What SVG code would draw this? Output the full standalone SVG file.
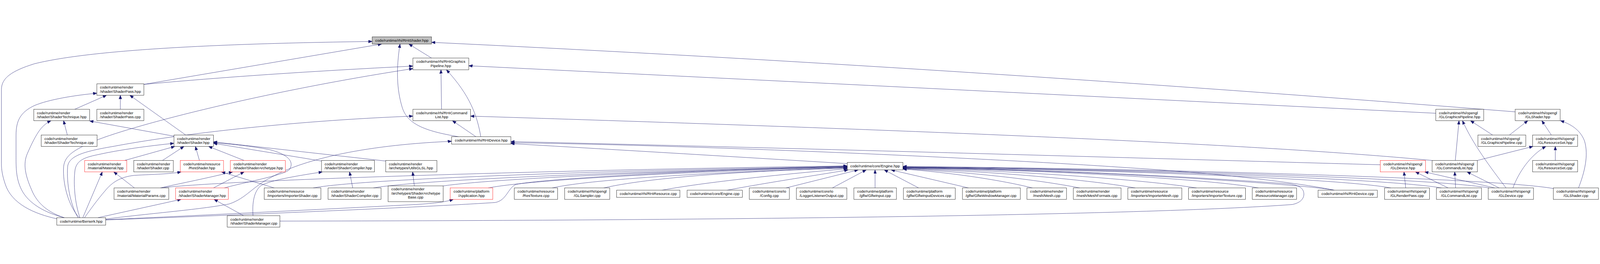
<svg xmlns="http://www.w3.org/2000/svg" width="5584" height="677" viewBox="0 0 5584 677" preserveAspectRatio="xMidYMid meet">
<style>
svg{width:100vw;height:100vh;display:block}
.n rect{fill:#ffffff;stroke:#000000;stroke-width:1}
.n.r rect{stroke:#ff0000}
.n.g rect{fill:#bfbfbf}
text{font-family:"Liberation Sans",Arial,Helvetica,sans-serif;font-size:13px;fill:#000000}
.c text{text-anchor:middle}
#edges path{fill:none;stroke:#191970;stroke-width:1;marker-end:url(#a)}
</style>
<defs>
<marker id="a" markerUnits="userSpaceOnUse" markerWidth="14" markerHeight="11" refX="13" refY="5" orient="auto">
<path d="M0,0 L13,5 L0,10 z" fill="#191970" stroke="#191970" stroke-width="1"/>
</marker>
</defs>
<rect width="5584" height="677" fill="#ffffff"/>
<g id="edges">
<path d="M199,642 C120,625 40,590 18,520 C8,490 5,470 5,450 L5,190 C5,150 40,125 120,100 C300,55 700,30 1299,22"/>
<path d="M502,172 L1332,31"/>
<path d="M1506,80 L1427,31"/>
<path d="M5288,268 Q3300,110 1506,25"/>
<path d="M1601,355 C1480,335 1420,310 1403,250 C1385,190 1382,120 1396,31"/>
<path d="M502,172 Q900,135 1441,108"/>
<path d="M277,638 C240,600 218,520 222,460 C226,420 260,400 330,370 C450,320 900,200 1441,117"/>
<path d="M1541,259 L1539,121"/>
<path d="M1678,355 C1665,280 1640,210 1558,121"/>
<path d="M5011,273 L1636,107"/>
<path d="M225,638 C160,622 100,590 75,540 C55,500 56,460 56,420 L56,350 C56,300 70,270 120,246 C170,225 260,210 338,203"/>
<path d="M261,259 L372,210"/>
<path d="M420,259 L420,210"/>
<path d="M648,349 L453,210"/>
<path d="M223,638 C170,620 130,590 110,540 C88,490 80,450 95,415 C110,380 125,350 140,330 C152,315 165,305 178,299"/>
<path d="M235,349 L222,299"/>
<path d="M607,353 L313,300"/>
<path d="M272,638 C245,590 232,520 236,460 C240,420 300,405 400,388 C600,350 1000,300 1441,283"/>
<path d="M1661,355 L1579,299"/>
<path d="M4998,438 C4600,400 3800,350 1642,283"/>
<path d="M279,638 C262,590 255,520 262,470 C268,440 290,428 340,418 C420,400 520,387 607,378"/>
<path d="M435,438 L610,389"/>
<path d="M567,438 L642,389"/>
<path d="M696,438 L682,389"/>
<path d="M852,438 L728,389"/>
<path d="M1122,440 L745,378"/>
<path d="M1346,440 L745,373"/>
<path d="M783,534 C850,515 990,490 1010,470 C1030,440 1000,415 940,400 C880,388 800,380 745,376"/>
<path d="M369,643 C500,625 700,610 800,590 C860,570 880,530 950,495 C1050,440 1250,385 1576,371"/>
<path d="M4817,453 C4500,445 3000,400 1783,372"/>
<path d="M4657,542 C4550,520 4300,486 3946,464 C3500,433 2500,386 1783,376"/>
<path d="M2957,449 Q2400,415 1783,379"/>
<path d="M289,638 L357,478"/>
<path d="M469,534 L397,478"/>
<path d="M295,638 C315,610 340,575 366,545 C390,515 420,495 470,490 C540,486 590,486 632,478"/>
<path d="M957,534 L773,478"/>
<path d="M560,534 C620,520 700,505 812,478"/>
<path d="M745,534 L852,478"/>
<path d="M342,638 L632,574"/>
<path d="M850,631 L747,574"/>
<path d="M883,631 C880,590 885,545 912,525 C950,505 1050,490 1125,478"/>
<path d="M1231,534 L1220,478"/>
<path d="M1446,527 L1440,478"/>
<path d="M369,645 C700,630 1200,605 1450,592 C1520,588 1560,582 1582,574"/>
<path d="M369,646 C900,626 1500,600 1728,585 C1768,578 1772,535 1800,522 C1900,500 2500,470 2957,458"/>
<path d="M560,534 C800,505 2000,470 2957,457"/>
<path d="M1093,534 C1250,505 2000,475 2957,459"/>
<path d="M1303,534 C1450,508 2100,478 2957,460"/>
<path d="M1546,527 C1700,505 2200,478 2957,461"/>
<path d="M1704,534 C1840,508 2300,480 2957,462"/>
<path d="M1927,534 C2080,500 2550,478 2957,463"/>
<path d="M2107,534 C2300,490 2700,472 2957,465"/>
<path d="M2310,542 C2480,510 2800,480 2957,467"/>
<path d="M2537,542 C2680,515 2880,485 2960,471"/>
<path d="M2743,534 L2995,471"/>
<path d="M2905,534 L3023,471"/>
<path d="M3054,534 L3054,471"/>
<path d="M3206,534 L3086,471"/>
<path d="M3380,534 L3110,471"/>
<path d="M3603,534 C3500,508 3320,480 3151,468"/>
<path d="M3768,534 C3620,505 3380,478 3151,467"/>
<path d="M3962,534 C3780,502 3420,474 3151,466"/>
<path d="M4176,534 C3950,500 3500,472 3151,465"/>
<path d="M4392,534 C4200,500 3600,470 3151,464"/>
<path d="M4657,542 C4560,522 3800,470 3151,463"/>
<path d="M977,650 C2500,648 4000,630 4510,592 C4545,585 4553,565 4550,550 C4547,535 4535,525 4500,520 C4100,490 3600,468 3151,463"/>
<path d="M4854,534 C4700,505 4000,472 3151,462"/>
<path d="M5031,534 C4850,503 4000,470 3151,461"/>
<path d="M5197,534 C5000,500 4000,468 3151,460"/>
<path d="M5421,536 C5200,498 4000,466 3151,459"/>
<path d="M5079,438 L5092,299"/>
<path d="M5209,349 L5132,299"/>
<path d="M5256,534 C5200,460 5140,380 5104,299"/>
<path d="M5268,349 L5332,299"/>
<path d="M5414,349 L5381,299"/>
<path d="M5509,534 C5530,480 5545,420 5530,370 C5515,330 5480,310 5446,299"/>
<path d="M5156,438 L5350,389"/>
<path d="M5280,534 C5300,480 5340,420 5395,389"/>
<path d="M5428,438 L5428,389"/>
<path d="M4906,534 L4900,478"/>
<path d="M5054,534 L4940,478"/>
<path d="M5217,534 L4972,478"/>
<path d="M5080,534 L5077,478"/>
<path d="M5232,534 L5120,478"/>
</g>

<g id="n1" class="n g c"><rect x="1299" y="6" width="207" height="25"/><text x="1402.5" y="23">code/runtime/rhi/RHIShader.hpp</text></g>
<g id="n2" class="n c"><rect x="1441" y="80" width="195" height="41"/><text x="1538.5" y="97">code/runtime/rhi/RHIGraphics</text><text x="1538.5" y="111">Pipeline.hpp</text></g>
<g id="n3" class="n"><rect x="338" y="170" width="164" height="40"/><text x="349" y="187">code/runtime/render</text><text x="349" y="201">/shader/ShaderPass.hpp</text></g>
<g id="n4" class="n"><rect x="118" y="259" width="195" height="40"/><text x="129" y="276">code/runtime/render</text><text x="129" y="290">/shader/ShaderTechnique.hpp</text></g>
<g id="n5" class="n"><rect x="338" y="259" width="164" height="40"/><text x="349" y="276">code/runtime/render</text><text x="349" y="290">/shader/ShaderPass.cpp</text></g>
<g id="n6" class="n c"><rect x="1441" y="259" width="201" height="40"/><text x="1541.5" y="276">code/runtime/rhi/RHICommand</text><text x="1541.5" y="290">List.hpp</text></g>
<g id="n7" class="n"><rect x="5011" y="259" width="167" height="40"/><text x="5022" y="276">code/runtime/rhi/opengl</text><text x="5022" y="290">/GLGraphicsPipeline.hpp</text></g>
<g id="n8" class="n c"><rect x="5288" y="259" width="157" height="40"/><text x="5366.5" y="276">code/runtime/rhi/opengl</text><text x="5366.5" y="290">/GLShader.hpp</text></g>
<g id="n9" class="n"><rect x="144" y="349" width="195" height="40"/><text x="155" y="366">code/runtime/render</text><text x="155" y="380">/shader/ShaderTechnique.cpp</text></g>
<g id="n10" class="n"><rect x="607" y="349" width="138" height="40"/><text x="618" y="366">code/runtime/render</text><text x="618" y="380">/shader/Shader.hpp</text></g>
<g id="n11" class="n c"><rect x="1576" y="355" width="207" height="26"/><text x="1679.5" y="372">code/runtime/rhi/RHIDevice.hpp</text></g>
<g id="n12" class="n"><rect x="5158" y="349" width="167" height="40"/><text x="5169" y="366">code/runtime/rhi/opengl</text><text x="5169" y="380">/GLGraphicsPipeline.cpp</text></g>
<g id="n13" class="n c"><rect x="5349" y="349" width="157" height="40"/><text x="5427.5" y="366">code/runtime/rhi/opengl</text><text x="5427.5" y="380">/GLResourceSet.hpp</text></g>
<g id="n14" class="n r"><rect x="295.5" y="438" width="147" height="40"/><text x="306.5" y="455">code/runtime/render</text><text x="306.5" y="469">/material/Material.hpp</text></g>
<g id="n15" class="n"><rect x="467" y="438" width="138" height="40"/><text x="478" y="455">code/runtime/render</text><text x="478" y="469">/shader/Shader.cpp</text></g>
<g id="n16" class="n r c"><rect x="629" y="438" width="151" height="40"/><text x="704.5" y="455">code/runtime/resource</text><text x="704.5" y="469">/ResShader.hpp</text></g>
<g id="n17" class="n r"><rect x="804" y="438" width="192" height="40"/><text x="815" y="455">code/runtime/render</text><text x="815" y="469">/shader/ShaderArchetype.hpp</text></g>
<g id="n18" class="n"><rect x="1122" y="438" width="185" height="40"/><text x="1133" y="455">code/runtime/render</text><text x="1133" y="469">/shader/ShaderCompiler.hpp</text></g>
<g id="n19" class="n"><rect x="1346" y="438" width="179" height="40"/><text x="1357" y="455">code/runtime/render</text><text x="1357" y="469">/archetypes/UtilsGLSL.hpp</text></g>
<g id="n20" class="n c"><rect x="2957" y="445" width="194" height="26"/><text x="3054" y="462">code/runtime/core/Engine.hpp</text></g>
<g id="n21" class="n r c"><rect x="4817" y="438" width="158" height="40"/><text x="4896" y="455">code/runtime/rhi/opengl</text><text x="4896" y="469">/GLDevice.hpp</text></g>
<g id="n22" class="n c"><rect x="4998" y="438" width="158" height="40"/><text x="5077" y="455">code/runtime/rhi/opengl</text><text x="5077" y="469">/GLCommandList.hpp</text></g>
<g id="n23" class="n c"><rect x="5349" y="438" width="157" height="40"/><text x="5427.5" y="455">code/runtime/rhi/opengl</text><text x="5427.5" y="469">/GLResourceSet.cpp</text></g>
<g id="n24" class="n"><rect x="398" y="534" width="191" height="40"/><text x="409" y="551">code/runtime/render</text><text x="409" y="565">/material/MaterialParams.cpp</text></g>
<g id="n25" class="n r"><rect x="613" y="534" width="184" height="40"/><text x="624" y="551">code/runtime/render</text><text x="624" y="565">/shader/ShaderManager.hpp</text></g>
<g id="n26" class="n"><rect x="922" y="534" width="198" height="40"/><text x="933" y="551">code/runtime/resource</text><text x="933" y="565">/importers/ImporterShader.cpp</text></g>
<g id="n27" class="n"><rect x="1145" y="534" width="185" height="40"/><text x="1156" y="551">code/runtime/render</text><text x="1156" y="565">/shader/ShaderCompiler.cpp</text></g>
<g id="n28" class="n"><rect x="1354.5" y="527" width="192" height="55"/><text x="1365.5" y="542.5">code/runtime/render</text><text x="1365.5" y="557">/archetypes/ShaderArchetype</text><text x="1450.5" y="571.5" text-anchor="middle">Base.cpp</text></g>
<g id="n29" class="n r c"><rect x="1571" y="534" width="149" height="40"/><text x="1645.5" y="551">code/runtime/platform</text><text x="1645.5" y="565">/Application.hpp</text></g>
<g id="n30" class="n c"><rect x="1795" y="534" width="151" height="40"/><text x="1870.5" y="551">code/runtime/resource</text><text x="1870.5" y="565">/ResTexture.cpp</text></g>
<g id="n31" class="n c"><rect x="1970.5" y="534" width="157.5" height="40"/><text x="2049.25" y="551">code/runtime/rhi/opengl</text><text x="2049.25" y="565">/GLSampler.cpp</text></g>
<g id="n32" class="n c"><rect x="2152" y="542" width="221" height="25"/><text x="2262.5" y="559">code/runtime/rhi/RHIResource.cpp</text></g>
<g id="n33" class="n c"><rect x="2398" y="542" width="193" height="25"/><text x="2494.5" y="559">code/runtime/core/Engine.cpp</text></g>
<g id="n34" class="n c"><rect x="2615" y="534" width="140" height="40"/><text x="2685" y="551">code/runtime/core/io</text><text x="2685" y="565">/Config.cpp</text></g>
<g id="n35" class="n"><rect x="2779.5" y="534" width="176" height="40"/><text x="2790.5" y="551">code/runtime/core/io</text><text x="2790.5" y="565">/LoggerListenerOutput.cpp</text></g>
<g id="n36" class="n c"><rect x="2980" y="534" width="148.6" height="40"/><text x="3054.3" y="551">code/runtime/platform</text><text x="3054.3" y="565">/glfw/GlfwInput.cpp</text></g>
<g id="n37" class="n"><rect x="3153" y="534" width="181" height="40"/><text x="3164" y="551">code/runtime/platform</text><text x="3164" y="565">/glfw/GlfwInputDevices.cpp</text></g>
<g id="n38" class="n"><rect x="3359" y="534" width="202" height="40"/><text x="3370" y="551">code/runtime/platform</text><text x="3370" y="565">/glfw/GlfwWindowManager.cpp</text></g>
<g id="n39" class="n c"><rect x="3584" y="534" width="138" height="40"/><text x="3653" y="551">code/runtime/render</text><text x="3653" y="565">/mesh/Mesh.cpp</text></g>
<g id="n40" class="n"><rect x="3746" y="534" width="166.5" height="40"/><text x="3757" y="551">code/runtime/render</text><text x="3757" y="565">/mesh/MeshFormats.cpp</text></g>
<g id="n41" class="n"><rect x="3936" y="534" width="188.6" height="40"/><text x="3947" y="551">code/runtime/resource</text><text x="3947" y="565">/importers/ImporterMesh.cpp</text></g>
<g id="n42" class="n"><rect x="4148" y="534" width="199" height="40"/><text x="4159" y="551">code/runtime/resource</text><text x="4159" y="565">/importers/ImporterTexture.cpp</text></g>
<g id="n43" class="n"><rect x="4370.5" y="534" width="154.5" height="40"/><text x="4381.5" y="551">code/runtime/resource</text><text x="4381.5" y="565">/ResourceManager.cpp</text></g>
<g id="n44" class="n c"><rect x="4600" y="542" width="207" height="25"/><text x="4703.5" y="559">code/runtime/rhi/RHIDevice.cpp</text></g>
<g id="n45" class="n c"><rect x="4832" y="534" width="157" height="40"/><text x="4910.5" y="551">code/runtime/rhi/opengl</text><text x="4910.5" y="565">/GLRenderPass.cpp</text></g>
<g id="n46" class="n c"><rect x="5013" y="534" width="157.6" height="40"/><text x="5091.8" y="551">code/runtime/rhi/opengl</text><text x="5091.8" y="565">/GLCommandList.cpp</text></g>
<g id="n47" class="n c"><rect x="5194" y="534" width="158" height="40"/><text x="5273" y="551">code/runtime/rhi/opengl</text><text x="5273" y="565">/GLDevice.cpp</text></g>
<g id="n48" class="n c"><rect x="5421" y="534" width="157.6" height="40"/><text x="5499.8" y="551">code/runtime/rhi/opengl</text><text x="5499.8" y="565">/GLShader.cpp</text></g>
<g id="n49" class="n"><rect x="793" y="631" width="184" height="40"/><text x="804" y="648">code/runtime/render</text><text x="804" y="662">/shader/ShaderManager.cpp</text></g>
<g id="n50" class="n c"><rect x="198" y="638" width="171" height="26"/><text x="283.5" y="655">code/runtime/Berserk.hpp</text></g>
</svg>
